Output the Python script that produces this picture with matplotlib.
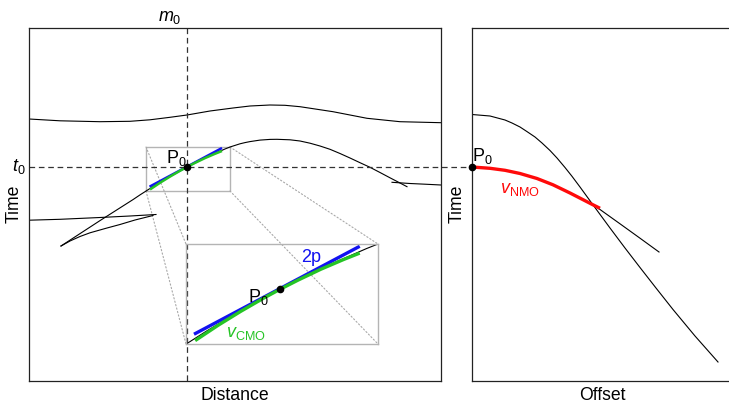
import matplotlib
matplotlib.use("Agg")
import matplotlib.pyplot as plt
from matplotlib.patches import Rectangle, ConnectionPatch

plt.rcParams.update({
    "font.family": ["Liberation Sans", "DejaVu Sans"],
    "mathtext.fontset": "custom",
    "mathtext.rm": "Liberation Sans",
    "mathtext.it": "Liberation Sans:italic",
    "mathtext.bf": "Liberation Sans:bold",
    "font.size": 12,
})

# ---------------- data (distance/time units) ----------------
# upper reflector (Distance panel)
top_x = [29, 60, 100, 130, 150, 170, 187, 210, 233, 250, 270, 285, 300, 333, 367, 400, 441]
top_t = [119, 120.8, 121.7, 121.3, 119.8, 117.3, 115, 111, 108, 106, 105, 105.3, 106.7, 111.7, 118.3, 121.7, 122.7]

# lower event, main branch
ev_x = [61, 100, 133, 140, 145, 150, 155, 160, 165, 170, 175, 180, 185, 187, 190, 195, 200,
        205, 210, 215, 220, 225, 230, 235, 240, 245, 250, 260, 270, 277, 290, 300, 310, 320,
        330, 340, 350, 360, 370, 380, 390, 400, 407]
ev_t = [246, 220.6, 199.6, 194.9, 191.7, 188.5, 185.3, 182.3, 179.3, 176.4, 173.5, 170.8, 168.1,
        167.0, 165.4, 162.9, 160.4, 158.0, 155.6, 153.4, 151.2, 149.0, 147.0, 145.4, 143.8, 142.6,
        141.6, 140.1, 139.4, 139.3, 139.8, 141.0, 143.2, 146.0, 149.3, 153.5, 158.0, 162.7, 167.3,
        172.5, 177.8, 183.0, 186.7]
# cusp branch (left)
cusp_x = [61, 70, 80, 90, 107, 120, 135, 153]
cusp_t = [246, 241, 236.5, 232.8, 228, 224.5, 220, 215.5]
# left flat segment
left_x = [29, 60, 100, 130, 156]
left_t = [220.2, 219.3, 217.5, 216, 214.5]
# right tail segment
tail_x = [392, 410, 425, 441]
tail_t = [182.3, 183.5, 184.2, 185]

# local slope (2p) and CMO curve at P0
p2_x = [149.5, 222.0]
p2_t = [186.7, 148.0]
cmo_x = [150, 160, 170, 180, 187, 195, 205, 215, 222]
cmo_t = [189.5, 182.8, 176.6, 170.8, 167.0, 162.9, 158.1, 153.8, 151.0]

m0, t0 = 187, 167
zoom_x = (146, 230)
zoom_t = (147, 191)

# Offset panel
off_x = [472, 490, 505, 512, 520, 527, 535, 542, 550, 557, 565, 572, 580, 592, 610, 625, 640,
         656, 673, 695, 718]
off_t = [114.5, 116, 120, 123.0, 127, 131.6, 137, 143.0, 150.5, 158.0, 167.5, 176.3, 187, 203.5,
         228, 248, 267.5, 288, 309.5, 336, 362]
mo_x = [472, 490, 505, 520, 537, 553, 570, 585, 592, 600, 620, 640, 659]
mo_t = [167, 168.3, 170.3, 173.5, 178.5, 184.8, 193.0, 200.7, 204.3, 209.5, 223.8, 238.2, 252]
nmo_x = [472, 490, 505, 520, 537, 553, 570, 585, 592, 600]
nmo_t = [167, 168.3, 170.3, 173.5, 178.5, 184.8, 193.0, 200.7, 204.3, 208.3]
off0 = 472

# ---------------- layout ----------------
W, H = 729, 404
fig = plt.figure(figsize=(W / 100, H / 100), dpi=100)


def px_axes(x0, y0, x1, y1):
    return fig.add_axes([x0 / W, 1 - y1 / H, (x1 - x0) / W, (y1 - y0) / H])


BLUE = "#1212f0"
GREEN = "#25c425"
RED = "#ff0a0a"
GRAY = "#b4b4b4"
DOT = "#a8a8a8"
dash = (0, (4.5, 3))
FS_LAB = 12.7
FS_ANN = 13

ax = px_axes(29, 28, 441, 381)
ax.set_xlim(29, 441)
ax.set_ylim(381, 28)
ax.set_xticks([])
ax.set_yticks([])
for s in ax.spines.values():
    s.set_linewidth(0.9)
    s.set_color("#222222")

lw_c = 0.8
ax.plot(top_x, top_t, color="black", lw=lw_c)
ax.plot(ev_x, ev_t, color="black", lw=lw_c)
ax.plot(cusp_x, cusp_t, color="black", lw=lw_c)
ax.plot(left_x, left_t, color="black", lw=lw_c)
ax.plot(tail_x, tail_t, color="black", lw=lw_c)
ax.plot(p2_x, p2_t, color=BLUE, lw=1.8, solid_capstyle="butt")
ax.plot(cmo_x, cmo_t, color=GREEN, lw=1.8, solid_capstyle="butt")
ax.plot([m0], [t0], "o", color="black", ms=4.5, zorder=5)

ax.plot([m0, m0], [28, 381], color="#333333", lw=0.9, ls=dash, clip_on=False)
ax.plot([29, off0], [t0, t0], color="#333333", lw=0.9, ls=dash, clip_on=False)

ax.add_patch(Rectangle((zoom_x[0], zoom_t[0]), zoom_x[1] - zoom_x[0], zoom_t[1] - zoom_t[0],
                       fill=False, edgecolor=GRAY, lw=1.0))

ax.text(176, 158, r"P$_0$", ha="center", va="center", fontsize=FS_ANN)
ax.text(170, 18, r"$m_0$", ha="center", va="center", fontsize=FS_ANN, clip_on=False)
ax.text(19, 167, r"$t_0$", ha="center", va="center", fontsize=FS_ANN, clip_on=False)
ax.text(235, 395, "Distance", ha="center", va="center", fontsize=FS_LAB)
ax.text(14.5, 204, "Time", ha="center", va="center", rotation=90, fontsize=FS_LAB)

# inset zoom
axin = px_axes(186, 244, 378, 344)
axin.set_xlim(*zoom_x)
axin.set_ylim(zoom_t[1], zoom_t[0])
axin.set_xticks([])
axin.set_yticks([])
axin.patch.set_alpha(0)
for s in axin.spines.values():
    s.set_color(GRAY)
    s.set_linewidth(1.0)
axin.plot(ev_x, ev_t, color="black", lw=lw_c)
axin.plot(p2_x, p2_t, color=BLUE, lw=2.4, solid_capstyle="butt")
axin.plot(cmo_x, cmo_t, color=GREEN, lw=2.4, solid_capstyle="butt")
axin.plot([m0], [t0], "o", color="black", ms=4.5, zorder=5)
axin.text(0.375, 0.47, r"P$_0$", transform=axin.transAxes, ha="center", va="center", fontsize=FS_ANN)
axin.text(0.65, 0.86, "2p", transform=axin.transAxes, ha="center", va="center", fontsize=FS_ANN, color=BLUE)
axin.text(0.31, 0.10, r"$v_{\mathrm{CMO}}$", transform=axin.transAxes, ha="center", va="center",
          fontsize=FS_ANN, color=GREEN)

for (xa, ya, xb, yb) in [(zoom_x[0], zoom_t[0], 0, 1), (zoom_x[0], zoom_t[1], 0, 0),
                         (zoom_x[1], zoom_t[0], 1, 1), (zoom_x[1], zoom_t[1], 1, 0)]:
    con = ConnectionPatch(xyA=(xa, ya), coordsA=ax.transData, xyB=(xb, yb), coordsB=axin.transAxes,
                          color=DOT, lw=0.8, ls=(0, (1.2, 2)))
    con.set_clip_on(False)
    ax.add_artist(con)

# Offset panel
ax2 = px_axes(472, 28, 732, 381)
ax2.set_xlim(472, 732)
ax2.set_ylim(381, 28)
ax2.set_xticks([])
ax2.set_yticks([])
for s in ax2.spines.values():
    s.set_linewidth(0.9)
    s.set_color("#222222")
ax2.plot(off_x, off_t, color="black", lw=lw_c)
ax2.plot(mo_x, mo_t, color="black", lw=lw_c)
ax2.plot(nmo_x, nmo_t, color=RED, lw=2.4, solid_capstyle="butt")
ax2.plot([off0], [t0], "o", color="black", ms=4.5, zorder=5, clip_on=False)
ax2.text(482.5, 156, r"P$_0$", ha="center", va="center", fontsize=FS_ANN)
ax2.text(520, 190, r"$v_{\mathrm{NMO}}$", ha="center", va="center", fontsize=FS_ANN, color=RED)
ax2.text(602, 395, "Offset", ha="center", va="center", fontsize=FS_LAB, clip_on=False)
ax2.text(457.5, 204, "Time", ha="center", va="center", rotation=90, fontsize=FS_LAB, clip_on=False)

fig.savefig("out.png", dpi=100)
